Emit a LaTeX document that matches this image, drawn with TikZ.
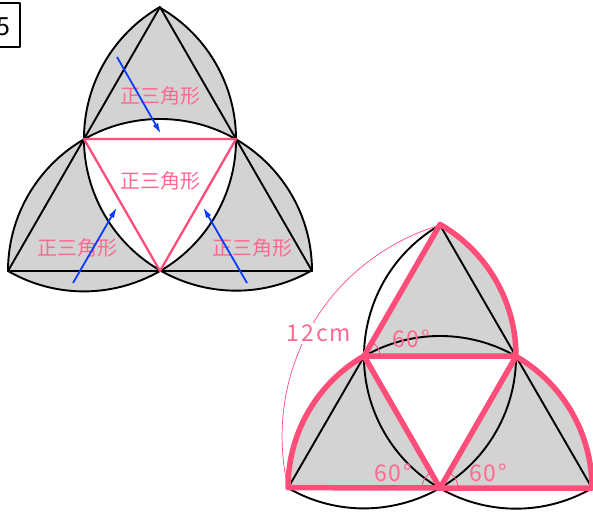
\documentclass[tikz,border=0pt]{standalone}
\usepackage{fontspec}
\setmainfont{Noto Sans CJK JP}
\newfontfamily\digfont[LetterSpace=8]{Noto Sans CJK JP}
\usetikzlibrary{arrows.meta}
\definecolor{grayfill}{RGB}{211,211,211}
\definecolor{pinkline}{RGB}{255,77,122}
\definecolor{pinktext}{RGB}{255,105,145}
\definecolor{bluearrow}{RGB}{10,60,255}
\begin{document}
\begin{tikzpicture}[x=1pt,y=1pt,line join=round,
  blk/.style={line width=1.9pt,black},
  pkthick/.style={line width=5.5pt,pinkline,line join=round,line cap=round},
  pkmid/.style={line width=2.3pt,pinkline},
  pkthin/.style={line width=0.8pt,pinkline},
  lbl/.style={text=pinktext,font=\fontsize{20}{20}\selectfont,inner sep=0pt},
  dlbl/.style={text=pinktext,font=\digfont\fontsize{23}{23}\selectfont,inner sep=0pt},
  arr/.style={-{Latex[length=11pt,width=6pt]},line width=1.8pt,bluearrow}]
\useasboundingbox (0,0) rectangle (593,512);
% ---------- box "5"
\draw[line width=1.6pt] (-10,465) rectangle (20,509);
\node[anchor=east,inner sep=0pt,font=\fontsize{25}{25}\selectfont] (num) at (11,485) {5};
% ---------- left figure
\coordinate (A) at (160,505);
\coordinate (B) at (8,241);
\coordinate (C) at (312,241);
\coordinate (D) at (84,373);
\coordinate (E) at (236,373);
\coordinate (F) at (160,241);
\fill[grayfill] (B) arc[start angle=180,end angle=120,radius=152]
  arc[start angle=180,end angle=120,radius=152]
  arc[start angle=60,end angle=0,radius=152]
  arc[start angle=60,end angle=0,radius=152]
  arc[start angle=300,end angle=240,radius=152]
  arc[start angle=300,end angle=240,radius=152] -- cycle;
\fill[white] (D) arc[start angle=120,end angle=60,radius=152]
  arc[start angle=0,end angle=-60,radius=152]
  arc[start angle=240,end angle=180,radius=152] -- cycle;
\draw[blk] (B) arc[start angle=180,end angle=0,radius=152];
\draw[blk] (B) arc[start angle=240,end angle=420,radius=152];
\draw[blk] (A) arc[start angle=120,end angle=300,radius=152];
\draw[blk] (A) -- (B) -- (C) -- cycle;
\draw[pkmid] (D) -- (E) -- (F) -- cycle;
\node[lbl] (t1) at (160,416) {正三角形};
\node[lbl] (t2) at (160,331) {正三角形};
\node[lbl] (t3) at (77,264) {正三角形};
\node[lbl] (t4) at (252,264) {正三角形};
\coordinate (a1s) at (117,455); \coordinate (a1e) at (161,378);
\coordinate (a2s) at (73,229);  \coordinate (a2e) at (117,305);
\coordinate (a3s) at (247,229); \coordinate (a3e) at (203,305);
\draw[arr] (a1s) -- (a1e);
\draw[arr] (a2s) -- (a2e);
\draw[arr] (a3s) -- (a3e);
% ---------- right figure
\coordinate (P) at (440,287);
\coordinate (Q) at (288,24);
\coordinate (R) at (592,24);
\coordinate (S) at (364,156);
\coordinate (T) at (516,156);
\coordinate (U) at (440,24);
\fill[grayfill] (S) -- (T) arc[start angle=0,end angle=60,radius=152] -- cycle;
\fill[grayfill] (U) -- (S) arc[start angle=120,end angle=180,radius=152] -- cycle;
\fill[grayfill] (U) -- (R) arc[start angle=0,end angle=60,radius=152] -- cycle;
\draw[blk] (Q) arc[start angle=180,end angle=0,radius=152];
\draw[blk] (Q) arc[start angle=240,end angle=420,radius=152];
\draw[blk] (P) arc[start angle=120,end angle=300,radius=152];
\draw[blk] (P) -- (Q) -- (R) -- cycle;
\draw[pkthin] ([shift={(0:16)}]S) arc[start angle=0,end angle=60,radius=16];
\draw[pkthin] ([shift={(120:18)}]U) arc[start angle=120,end angle=180,radius=18];
\draw[pkthin] ([shift={(0:18)}]U) arc[start angle=0,end angle=60,radius=18];
\draw[pkthick] (S) -- (T) arc[start angle=0,end angle=60,radius=152] -- cycle;
\draw[pkthick] (U) -- (S) arc[start angle=120,end angle=180,radius=152] -- cycle;
\draw[pkthick] (U) -- (R) arc[start angle=0,end angle=60,radius=152] -- cycle;
\draw[pkthin,line width=0.7pt] (P) to[bend right=43] (Q);
\node[dlbl,fill=white,inner sep=2pt] (dim) at (319,179) {12cm};
\node[dlbl] (g1) at (411,173) {60°};
\node[dlbl] (g2) at (393,39) {60°};
\node[dlbl] (g3) at (488,39) {60°};
\end{tikzpicture}
\end{document}
